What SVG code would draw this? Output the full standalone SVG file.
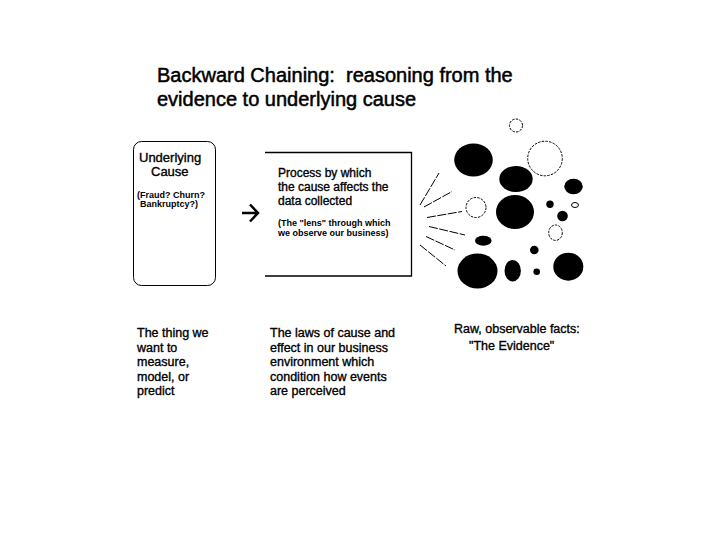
<svg xmlns="http://www.w3.org/2000/svg" width="720" height="540" viewBox="0 0 720 540">
<style>
text{font-family:"Liberation Sans",Arial,sans-serif;fill:#000;white-space:pre;stroke:#000;stroke-width:0.35}
.title{font-size:20px;stroke-width:0.5}
.body{font-size:12.5px}
.small{font-size:9px;font-weight:bold;stroke-width:0}
.blk{fill:#000}
.oc{fill:none;stroke:#000;stroke-width:1;stroke-dasharray:2.5 1.2}
.ray{stroke:#000;stroke-width:1;stroke-dasharray:9 1.5;fill:none}
</style>
<rect width="720" height="540" fill="#fff"/>
<g id="title">
<text class="title" x="157" y="82" xml:space="preserve">Backward Chaining:  reasoning from the</text>
<text class="title" x="157" y="106">evidence to underlying cause</text>
</g>
<g id="cause">
<rect x="133.5" y="141.5" width="82" height="144" rx="8" fill="none" stroke="#000" stroke-width="1"/>
<text x="139" y="162" style="font-size:13px">Underlying</text>
<text x="151" y="176" style="font-size:13px">Cause</text>
<text class="small" x="137" y="198">(Fraud? Churn?</text>
<text class="small" x="140" y="207">Bankruptcy?)</text>
</g>
<g id="process">
<path d="M265 152.5H411.5V276H265" fill="none" stroke="#000" stroke-width="1.3"/>
<text x="278" y="177" style="font-size:12px">Process by which</text>
<text x="278" y="191" style="font-size:12px">the cause affects the</text>
<text x="278" y="205" style="font-size:12px">data collected</text>
<text class="small" x="278" y="226">(The "lens" through which</text>
<text class="small" x="278" y="236">we observe our business)</text>
</g>
<g id="connectors">
<path d="M242 213H258M250 204.5L258 213L250 221.5" fill="none" stroke="#000" stroke-width="2.5"/>
<line class="ray" x1="420" y1="205" x2="439" y2="173"/>
<line class="ray" x1="424" y1="207" x2="452" y2="191.5"/>
<line class="ray" x1="427" y1="217.5" x2="462" y2="211.5"/>
<line class="ray" x1="429" y1="226.5" x2="465" y2="235"/>
<line class="ray" x1="426" y1="236.5" x2="455" y2="250"/>
<line class="ray" x1="420" y1="245" x2="446" y2="266"/>
</g>
<g id="evidence">
<circle class="oc" cx="516" cy="125.5" r="6.5"/>
<ellipse class="blk" cx="473.5" cy="160" rx="19.3" ry="16.5"/>
<circle class="oc" cx="545" cy="158.5" r="17.3"/>
<ellipse class="blk" cx="516" cy="179" rx="16.7" ry="13"/>
<ellipse class="blk" cx="573.5" cy="186.5" rx="9.3" ry="7.7"/>
<circle class="oc" cx="476" cy="207.5" r="10"/>
<ellipse class="blk" cx="515" cy="212" rx="19" ry="17"/>
<circle class="blk" cx="550" cy="204.3" r="3.7"/>
<ellipse class="oc" cx="575" cy="205" rx="3.5" ry="2.5" style="stroke-dasharray:none"/>
<circle class="blk" cx="562.5" cy="216" r="5.3"/>
<ellipse class="oc" cx="555.5" cy="232.7" rx="6.8" ry="7.7"/>
<ellipse class="blk" cx="483.3" cy="240.7" rx="8.3" ry="5"/>
<circle class="blk" cx="534.3" cy="250" r="4.3"/>
<ellipse class="blk" cx="477.5" cy="271" rx="20" ry="17.5"/>
<ellipse class="blk" cx="512.7" cy="270.7" rx="8.2" ry="10.8"/>
<circle class="blk" cx="536.7" cy="271.7" r="3.3"/>
<ellipse class="blk" cx="568.3" cy="266.7" rx="15" ry="14"/>
</g>
<g id="captions">
<text class="body" x="137" y="337">The thing we</text>
<text class="body" x="137" y="351.5">want to</text>
<text class="body" x="137" y="366">measure,</text>
<text class="body" x="137" y="380.5">model, or</text>
<text class="body" x="137" y="395">predict</text>
<text class="body" x="270" y="337">The laws of cause and</text>
<text class="body" x="270" y="351.5">effect in our business</text>
<text class="body" x="270" y="366">environment which</text>
<text class="body" x="270" y="380.5">condition how events</text>
<text class="body" x="270" y="395">are perceived</text>
<text class="body" x="454" y="333">Raw, observable facts:</text>
<text class="body" x="469" y="350">"The Evidence"</text>
</g>
</svg>
